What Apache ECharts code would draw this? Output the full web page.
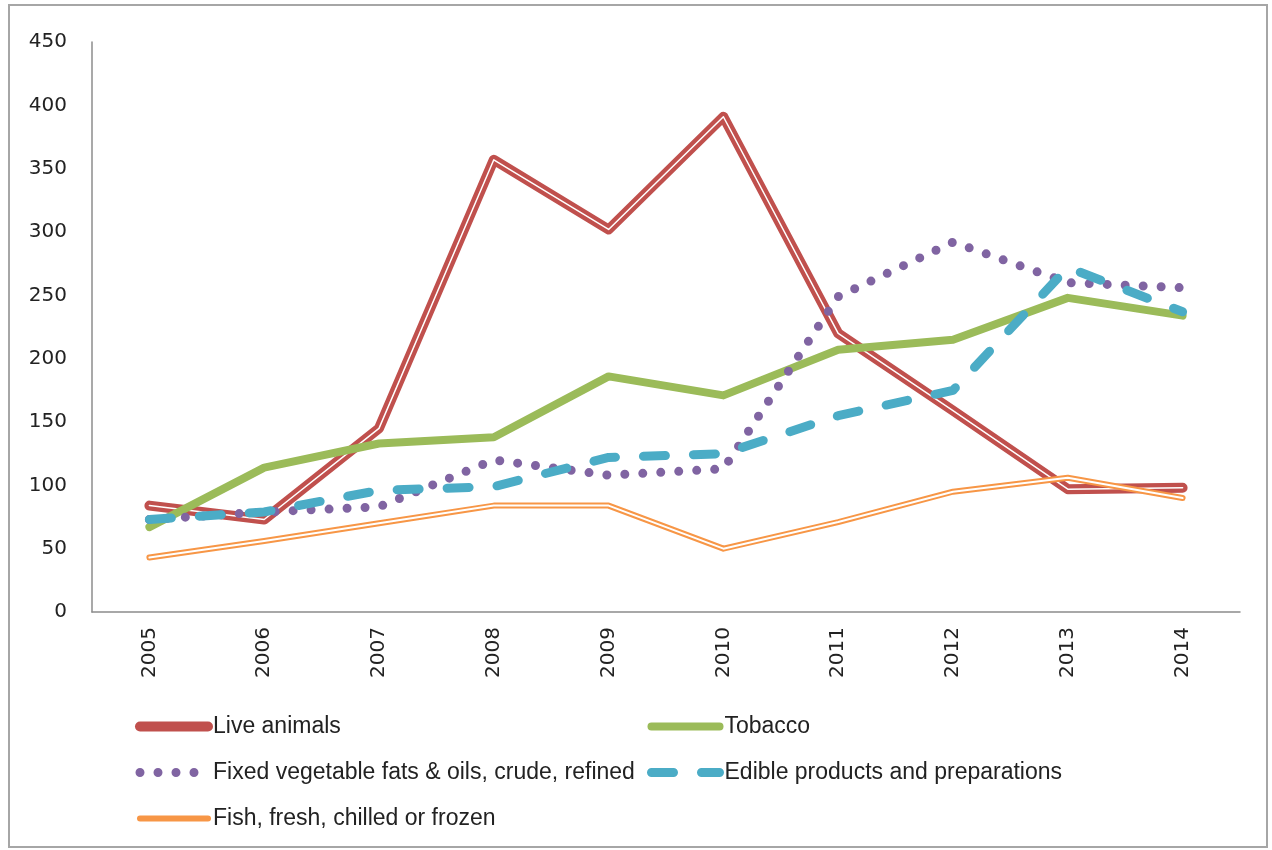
<!doctype html>
<html>
<head>
<meta charset="utf-8">
<title>Imports by product</title>
<script src="https://cdn.jsdelivr.net/npm/echarts@6/dist/echarts.min.js"></script>
<style>
  body { margin: 0; background: #fff; }
  #chart { width: 1272px; height: 850px; }
</style>
</head>
<body>
<div id="chart"></div>
<script>
// data
var years = ['2005', '2006', '2007', '2008', '2009', '2010', '2011', '2012', '2013', '2014'];
var yTicks = [0, 50, 100, 150, 200, 250, 300, 350, 400, 450];
var liveAnimals = [84, 73, 145, 357, 302, 391, 220, 159, 97, 98];
var tobacco = [67, 114, 133, 138, 186, 171, 207, 215, 248, 234];
var vegFats = [73, 79, 83, 120, 108, 113, 249, 292, 260, 256];
var edible = [73, 79, 96, 99, 122, 125, 155, 175, 272, 237];
var fish = [43, 56, 70, 84, 84, 50, 71, 95, 106, 90];

var names = ['Live animals', 'Tobacco', 'Fixed vegetable fats & oils, crude, refined',
  'Edible products and preparations', 'Fish, fresh, chilled or frozen'];

var colors = ['#c0504d', '#9bbb59', '#8064a2', '#4bacc6', '#f79646'];
var widths = [10, 8, 9, 9, 6];
var dashes = ['solid', 'solid', [0, 18], [22, 28], 'solid'];

var chart = echarts.init(document.getElementById('chart'));

function lineSeries(name, data, color, width, type, z) {
  return {
    name: name,
    type: 'line',
    data: data,
    symbol: 'none',
    z: z,
    lineStyle: { color: color, width: width, type: type || 'solid', cap: 'round', join: 'round' },
    itemStyle: { color: color }
  };
}

function legendItem(i) {
  return {
    name: names[i],
    lineStyle: { color: colors[i], width: widths[i], type: dashes[i], cap: 'round' }
  };
}

var legendText = { fontFamily: 'Liberation Sans', fontSize: 23, color: '#222' };

var option = {
  animation: false,
  backgroundColor: '#fff',
  graphic: [{
    type: 'rect',
    shape: { x: 9, y: 5, width: 1258, height: 842 },
    style: { fill: 'none', stroke: '#a6a6a6', lineWidth: 2 }
  }],
  grid: { left: 92, right: 32, top: 42, bottom: 238 },
  legend: [{
    orient: 'vertical',
    left: 130,
    top: 710,
    itemWidth: 68,
    itemHeight: 12,
    itemGap: 23,
    itemStyle: { opacity: 0 },
    textStyle: legendText,
    data: [legendItem(0), legendItem(2), legendItem(4)]
  }, {
    orient: 'vertical',
    left: 642,
    top: 710,
    itemWidth: 68,
    itemHeight: 12,
    itemGap: 23,
    itemStyle: { opacity: 0 },
    textStyle: legendText,
    data: [legendItem(1), legendItem(3)]
  }],
  xAxis: {
    type: 'category',
    data: years,
    axisLine: { lineStyle: { color: '#8c8c8c', width: 1.5 } },
    axisTick: { show: false },
    axisLabel: {
      rotate: 90, margin: 15, color: '#222',
      fontFamily: 'DejaVu Sans', fontSize: 20
    }
  },
  yAxis: {
    type: 'value',
    min: yTicks[0],
    max: yTicks[yTicks.length - 1],
    interval: 50,
    splitLine: { show: false },
    axisLine: { show: true, lineStyle: { color: '#8c8c8c', width: 1.5 } },
    axisTick: { show: false },
    axisLabel: { margin: 25, color: '#222', fontFamily: 'DejaVu Sans', fontSize: 20 }
  },
  series: [
    lineSeries(names[0], liveAnimals, colors[0], widths[0], dashes[0], 2),
    // white stripe for the double line
    lineSeries(names[0], liveAnimals, '#ffffff', 1.5, 'solid', 3),
    lineSeries(names[1], tobacco, colors[1], widths[1], dashes[1], 4),
    lineSeries(names[2], vegFats, colors[2], widths[2], dashes[2], 5),
    lineSeries(names[3], edible, colors[3], widths[3], dashes[3], 6),
    lineSeries(names[4], fish, colors[4], widths[4], dashes[4], 7),
    lineSeries(names[4], fish, '#ffffff', 2, 'solid', 8)
  ]
};

chart.setOption(option);
</script>
</body>
</html>
